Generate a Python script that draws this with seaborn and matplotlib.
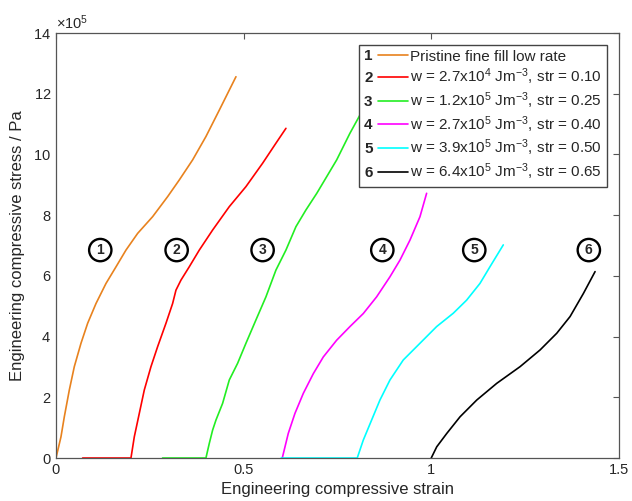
import numpy as np
import pandas as pd
import matplotlib
matplotlib.use("Agg")
import matplotlib.pyplot as plt
import seaborn as sns
from matplotlib.legend_handler import HandlerLine2D
from matplotlib.lines import Line2D
from matplotlib.text import Text

# ---- data (stress in units of 1e5 Pa) ----
STRESS_UNIT = 1e5

x1 = [0.0, 0.0133, 0.0222, 0.0355, 0.0488, 0.0666, 0.0844, 0.1066, 0.1332, 0.160, 0.1865,
      0.2176, 0.2575, 0.2975, 0.3286, 0.3641, 0.3996, 0.4352, 0.4796]
y1 = [0.0, 0.70, 1.36, 2.24, 3.01, 3.78, 4.44, 5.09, 5.75, 6.30, 6.85,
      7.40, 7.95, 8.61, 9.16, 9.82, 10.59, 11.46, 12.56]

x2 = [0.071, 0.1998, 0.2087, 0.222, 0.2353, 0.2531, 0.2709, 0.2931, 0.3108, 0.3197, 0.333,
      0.3552, 0.3819, 0.4174, 0.4618, 0.5062, 0.5506, 0.5861, 0.6128]
y2 = [0.0, 0.0, 0.70, 1.47, 2.24, 3.01, 3.67, 4.44, 5.09, 5.53, 5.86,
      6.30, 6.85, 7.51, 8.28, 8.94, 9.71, 10.37, 10.86]

x3 = [0.284, 0.3996, 0.4085, 0.4174, 0.4263, 0.444, 0.4618, 0.484, 0.5062, 0.5329, 0.5595,
      0.5861, 0.6128, 0.6394, 0.666, 0.695, 0.748, 0.783, 0.815, 0.84]
y3 = [0.0, 0.0, 0.48, 0.92, 1.25, 1.80, 2.57, 3.12, 3.78, 4.55, 5.31,
      6.19, 6.85, 7.62, 8.17, 8.72, 9.82, 10.69, 11.41, 11.95]

x4 = [0.603, 0.6190, 0.6368, 0.6591, 0.6858, 0.7124, 0.7479, 0.7834, 0.8190, 0.8545,
      0.8900, 0.9167, 0.9434, 0.9700, 0.9877]
y4 = [0.0, 0.81, 1.47, 2.13, 2.78, 3.33, 3.88, 4.33, 4.76, 5.31,
      5.97, 6.52, 7.18, 7.95, 8.72]

x5 = [0.600, 0.8028, 0.8189, 0.8411, 0.8633, 0.8900, 0.9255, 0.9700, 1.0144, 1.0588,
      1.0943, 1.1298, 1.1565, 1.1920]
y5 = [0.0, 0.0, 0.59, 1.25, 1.91, 2.57, 3.23, 3.78, 4.33, 4.77,
      5.20, 5.75, 6.30, 7.02]

x6 = [1.0, 1.0147, 1.0414, 1.0769, 1.1213, 1.1746, 1.2368, 1.2901, 1.3345, 1.3700,
      1.4055, 1.4366]
y6 = [0.0, 0.37, 0.81, 1.36, 1.91, 2.46, 3.01, 3.56, 4.11, 4.66,
      5.42, 6.14]

curve_ids = ["1", "2", "3", "4", "5", "6"]
labels = [
    "Pristine fine fill low rate",
    r"w = 2.7x10$^{4}$ Jm$^{-3}$, str = 0.10",
    r"w = 1.2x10$^{5}$ Jm$^{-3}$, str = 0.25",
    r"w = 2.7x10$^{5}$ Jm$^{-3}$, str = 0.40",
    r"w = 3.9x10$^{5}$ Jm$^{-3}$, str = 0.50",
    r"w = 6.4x10$^{5}$ Jm$^{-3}$, str = 0.65",
]
colors = ["#E8821E", "#FF0000", "#22EE22", "#FF00FF", "#00FFFF", "#000000"]

# circled annotation positions (strain, stress in 1e5 Pa)
ann_x = [0.118, 0.3215, 0.5506, 0.8696, 1.1147, 1.420]
ann_y = [6.85, 6.85, 6.85, 6.85, 6.85, 6.85]

xs = [x1, x2, x3, x4, x5, x6]
ys = [y1, y2, y3, y4, y5, y6]

frames = []
for cid, xx, yy in zip(curve_ids, xs, ys):
    frames.append(pd.DataFrame({"curve": cid, "strain": xx,
                                "stress": np.array(yy) * STRESS_UNIT}))
df = pd.concat(frames, ignore_index=True)

# ---- style ----
sns.set_style("white")
plt.rcParams["font.family"] = ["Liberation Sans", "DejaVu Sans"]
plt.rcParams["mathtext.fontset"] = "custom"
plt.rcParams["mathtext.rm"] = "Liberation Sans"
plt.rcParams["mathtext.it"] = "Liberation Sans:italic"
plt.rcParams["mathtext.bf"] = "Liberation Sans:bold"

fig = plt.figure(figsize=(6.32, 5.01), dpi=100)
ax = fig.add_axes([0.0886, 0.0858, 0.8906, 0.8483])

sns.lineplot(data=df, x="strain", y="stress", hue="curve",
             palette=dict(zip(curve_ids, colors)), hue_order=curve_ids,
             estimator=None, sort=False, legend=False, linewidth=1.2, ax=ax)

ax.set_xlim(0, 1.5)
ax.set_ylim(0, 14 * STRESS_UNIT)
ax.set_xticks([0, 0.5, 1, 1.5])
ax.set_xticklabels(["0", "0.5", "1", "1.5"])
ax.set_yticks(np.arange(0, 15, 2) * STRESS_UNIT)
ax.ticklabel_format(axis="y", style="sci", scilimits=(5, 5), useMathText=True)
ax.yaxis.get_offset_text().set_fontsize(10.5)

ax.tick_params(direction="in", top=True, right=True, length=4,
               labelsize=10.5, color="#555555", width=0.8)
for sp in ax.spines.values():
    sp.set_color("#555555")
    sp.set_linewidth(0.9)

ax.set_xlabel("Engineering compressive strain", fontsize=12, labelpad=4)
ax.set_ylabel("Engineering compressive stress / Pa", fontsize=12, labelpad=6)

for cid, axx, ayy in zip(curve_ids, ann_x, ann_y):
    ax.text(axx, ayy * STRESS_UNIT, cid, ha="center", va="center",
            fontsize=10, fontweight="bold",
            bbox=dict(boxstyle="circle,pad=0.3", fc="white", ec="black", lw=1.7))


class NumHandler(HandlerLine2D):
    def __init__(self, num, **kw):
        super().__init__(**kw)
        self.num = num

    def create_artists(self, legend, orig_handle, xdescent, ydescent,
                       width, height, fontsize, trans):
        yc = (height - ydescent) / 2.0
        x0 = -xdescent
        line = Line2D([x0 + width * 0.32, x0 + width], [yc, yc],
                      color=orig_handle.get_color(), lw=1.2)
        line.set_transform(trans)
        txt = Text(x0, yc - 0.7, self.num, ha="left", va="center",
                   fontsize=fontsize, fontweight="bold",
                   family=["Liberation Sans", "DejaVu Sans"])
        txt.set_transform(trans)
        return [txt, line]


handles = ax.get_lines()[:6]
leg = ax.legend(handles, labels,
                handler_map={h: NumHandler(n) for h, n in zip(handles, curve_ids)},
                loc="upper right", fontsize=11, handlelength=2.9,
                handletextpad=0.12, labelspacing=0.2, borderpad=0.3,
                borderaxespad=0.8, fancybox=False, framealpha=1,
                edgecolor="#444444")
leg.get_frame().set_linewidth(1.0)
leg.set_zorder(10)

fig.savefig("out.png", dpi=100, facecolor="white")
